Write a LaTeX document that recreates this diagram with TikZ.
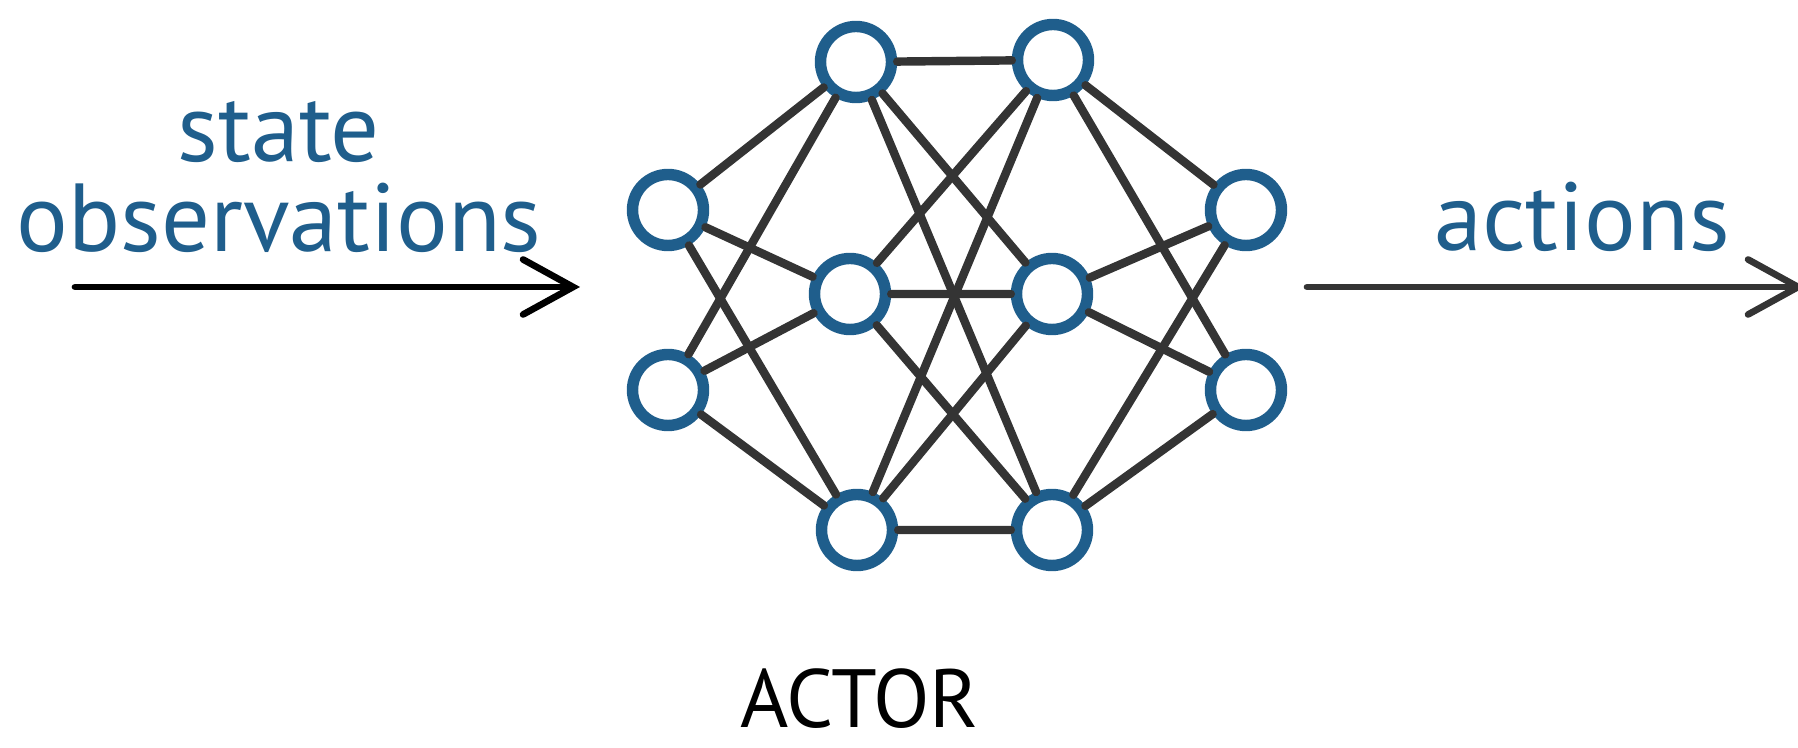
\documentclass[tikz,border=0pt]{standalone}
\usepackage{fontspec}
\setmainfont{PT Sans}
\usetikzlibrary{arrows.meta, positioning}
\definecolor{netblue}{RGB}{31, 94, 140}
\definecolor{wiregray}{RGB}{52, 52, 52}

\begin{document}
\begin{tikzpicture}[
  neuron/.style={
    circle, draw=netblue, fill=white, line width=6.5pt,
    minimum size=1.42cm, inner sep=0pt
  },
  wire/.style={draw=wiregray, line width=4.8pt, line cap=round},
  flow/.style={-{Straight Barb[length=10mm, width=11mm, line cap=round]}, line width=3.8pt, line cap=round},
  lbl/.style={font=\fontsize{55}{51}\selectfont, text=netblue, align=center, inner sep=0pt}
]
  \clip (0,0) rectangle (35.96,14.96);

  % Neuroni (quattro colonne)
  \node[neuron] (in1) at (13.36,10.76) {};
  \node[neuron] (in2) at (13.36,7.16) {};
  \node[neuron] (ha1) at (17.12,13.72) {};
  \node[neuron] (ha2) at (17.0,9.08) {};
  \node[neuron] (ha3) at (17.14,4.36) {};
  \node[neuron] (hb1) at (21.06,13.76) {};
  \node[neuron] (hb2) at (21.04,9.08) {};
  \node[neuron] (hb3) at (21.04,4.36) {};
  \node[neuron] (out1) at (24.92,10.76) {};
  \node[neuron] (out2) at (24.92,7.16) {};

  % Collegamenti tra i livelli
  \draw[wire] (in1) -- (ha1) (in1) -- (ha2) (in1) -- (ha3);
  \draw[wire] (in2) -- (ha1) (in2) -- (ha2) (in2) -- (ha3);
  \draw[wire] (ha1) -- (hb1) (ha1) -- (hb2) (ha1) -- (hb3);
  \draw[wire] (ha2) -- (hb1) (ha2) -- (hb2) (ha2) -- (hb3);
  \draw[wire] (ha3) -- (hb1) (ha3) -- (hb2) (ha3) -- (hb3);
  \draw[wire] (hb1) -- (out1) (hb1) -- (out2);
  \draw[wire] (hb2) -- (out1) (hb2) -- (out2);
  \draw[wire] (hb3) -- (out1) (hb3) -- (out2);

  % Frecce di ingresso e uscita
  \coordinate (obsstart) at (1.5,9.22);
  \coordinate (obsend) at (11.6,9.22);
  \coordinate (actstart) at (26.14,9.22);
  \coordinate (actend) at (36.1,9.22);
  \draw[flow, black] (obsstart) -- (obsend);
  \draw[flow, wiregray] (actstart) -- (actend);

  % Etichette
  \node[lbl] (obs) at (5.58,11.42) {state\\observations};
  \node[lbl] (act) at (31.64,10.62) {actions};
  \node[font=\fontsize{47}{50}\selectfont, inner sep=0pt, below=1.95cm of ha3, xshift=0.05cm] (actor) {ACTOR};
\end{tikzpicture}
\end{document}
